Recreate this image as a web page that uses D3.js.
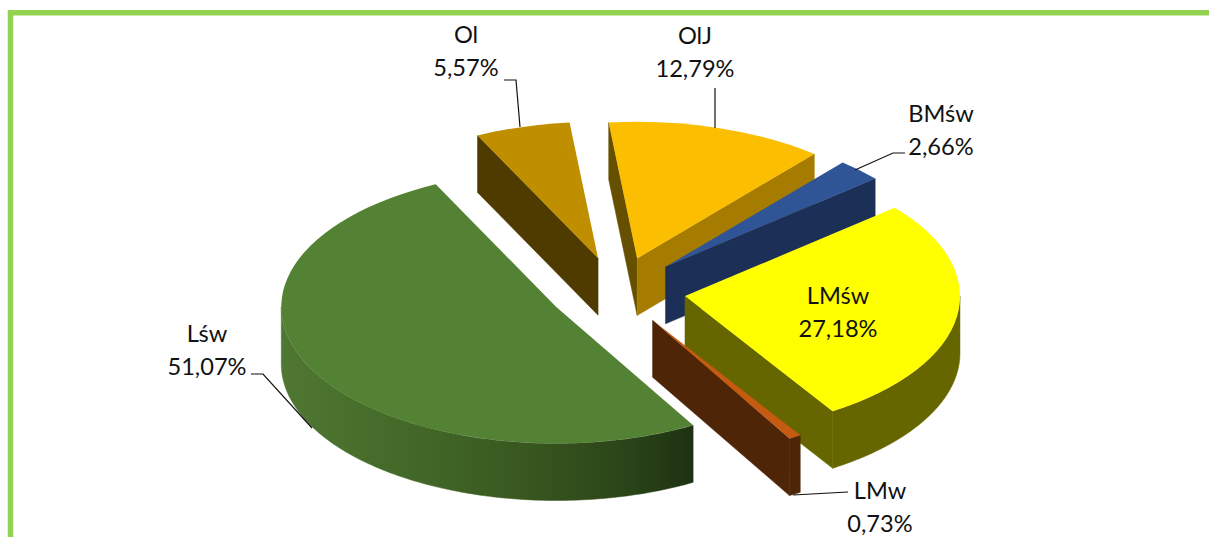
<!DOCTYPE html>
<html><head><meta charset="utf-8">
<script src="https://cdn.jsdelivr.net/npm/d3@7"></script>
<style>html,body{margin:0;padding:0;background:#fff;overflow:hidden}svg{display:block}text{font-family:Lato,"Open Sans",sans-serif;font-size:23.6px;fill:#111;text-anchor:middle}</style>
</head><body><svg id="c" width="1209" height="537"></svg>
<script>
// data
const categories = ["Ol","OlJ","BMśw","LMśw","LMw","Lśw"];
const shares = [5.57,12.79,2.66,27.18,0.73,51.07];
const shareLabels = ["5,57%","12,79%","2,66%","27,18%","0,73%","51,07%"];
// styles
const topColors = ["#BF8F00","#FCBE00","#2F5597","#FFFF00","#C55A11","#548235"];
const startWallColors = ["#4F3B00","#665000",null,null,null,null];
const endWallColors = [null,"#A67C00","#1B2F57","#666600","#4F2507",null];
const outerWallColors = [null,null,null,"#666600","#4F2507","url(#lswWall)"];
// layout
const W=1209,H=537;
const cx=617, cy=291, rx=275, ry=136.5, depth=57, explode=0.25;
const firstAngle=-26*Math.PI/180;
const labelAnchors=[[466,43],[695,44],[941,122],[838,304],[880,499],[207,342]];
const lineGap=33;
const leaders=[[[504,80],[516,80],[520,127]],[[715,88],[715,128]],[[905,153],[893,153],[855,170]],[],[[848,492],[793,495]],[[251,374],[263,374],[312,428]]];

const svg=d3.select("#c");
const defs=svg.append("defs");
const grad=defs.append("linearGradient").attr("id","lswWall").attr("gradientUnits","userSpaceOnUse")
  .attr("x1",281).attr("x2",693).attr("y1",0).attr("y2",0);
[[0,"#507732"],[0.3,"#436929"],[0.6,"#38571f"],[0.85,"#2a4318"],[1,"#1e3211"]].forEach(s=>
  grad.append("stop").attr("offset",s[0]).attr("stop-color",s[1]));

// frame
const frame=svg.append("g").attr("stroke","#94D352").attr("stroke-width",5.5).attr("fill","none");
frame.append("path").attr("d",d3.line()([[10.5,H],[10.5,12.8],[W,12.8]]));

const arcs=d3.pie().sort(null).value(d=>d).startAngle(firstAngle).endAngle(firstAngle+2*Math.PI)(shares);
const scaleRatio=ry/rx;
const topArc=d3.arc().innerRadius(0).outerRadius(rx);
const line=d3.line();
const pieG=svg.append("g");

arcs.forEach((a,i)=>{
  const mid=(a.startAngle+a.endAngle)/2;
  const ax=cx+explode*rx*Math.sin(mid), ay=cy-explode*ry*Math.cos(mid);
  const pt=t=>[ax+rx*Math.sin(t), ay-ry*Math.cos(t)];
  const g=pieG.append("g");
  if(outerWallColors[i]){
    const t0=Math.max(a.startAngle,Math.PI/2), t1=Math.min(a.endAngle,1.5*Math.PI);
    const ts=d3.range(0,121).map(k=>t0+(t1-t0)*k/120);
    const up=ts.map(pt), down=ts.map(pt).map(p=>[p[0],p[1]+depth]).reverse();
    g.append("path").attr("fill",outerWallColors[i]).attr("stroke",outerWallColors[i]).attr("stroke-width",0.5).attr("d",line(up.concat(down))+"Z");
  }
  const radial=(t,col)=>{
    const p=pt(t);
    g.append("path").attr("fill",col).attr("stroke",col).attr("stroke-width",0.5)
      .attr("d",line([[ax,ay],p,[p[0],p[1]+depth],[ax,ay+depth]])+"Z");
  };
  if(startWallColors[i]) radial(a.startAngle,startWallColors[i]);
  if(endWallColors[i]) radial(a.endAngle,endWallColors[i]);
  g.append("path").attr("fill",topColors[i])
    .attr("transform",`translate(${ax},${ay}) scale(1,${scaleRatio})`)
    .attr("d",topArc(a));
});

// leaders
svg.append("g").selectAll("path").data(leaders.filter(l=>l.length)).join("path")
  .attr("fill","none").attr("stroke","#111").attr("stroke-width",1.2).attr("d",d=>line(d));

// labels
categories.forEach((c,i)=>{
  const [x,y]=labelAnchors[i];
  svg.append("text").attr("x",x).attr("y",y).text(c);
  svg.append("text").attr("x",x).attr("y",y+lineGap).text(shareLabels[i]);
});
</script></body></html>
